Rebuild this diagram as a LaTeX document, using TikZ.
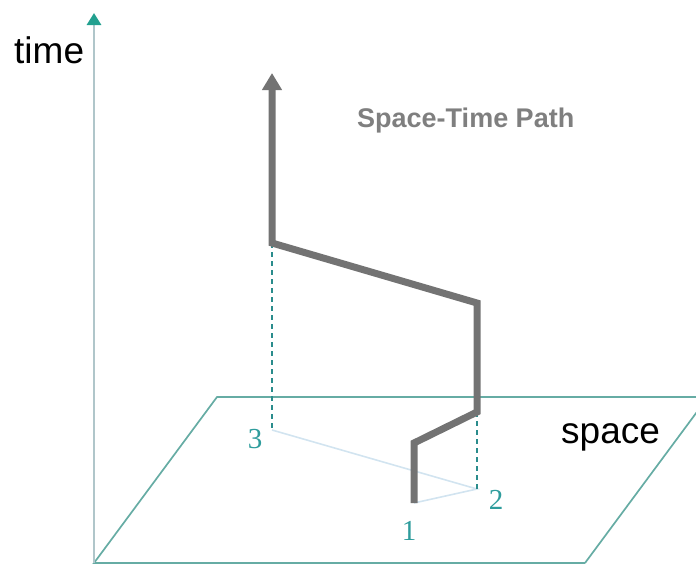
\documentclass[tikz,border=0pt]{standalone}
\usepackage{fontspec}
\setmainfont{Liberation Sans}
\newfontfamily\digitfont{Liberation Serif}
\usetikzlibrary{arrows.meta}
\definecolor{axisgray}{HTML}{B0C6CA}
\definecolor{axisteal}{HTML}{22A08F}
\definecolor{planeteal}{HTML}{66ACA4}
\definecolor{pathgray}{HTML}{737373}
\definecolor{dashteal}{HTML}{2A8C8C}
\definecolor{lightlink}{HTML}{D2E4F0}
\definecolor{labelteal}{HTML}{2E9C9C}
\definecolor{titlegray}{HTML}{7F7F7F}
\tikzset{
  planeline/.style={draw=planeteal, line width=1.7pt},
  stpath/.style={draw=pathgray, line width=7pt, line join=miter},
  droplink/.style={draw=dashteal, line width=1.3pt, dash pattern=on 5pt off 4pt},
  groundlink/.style={draw=lightlink, line width=1.6pt},
  ptlabel/.style={text=labelteal, font=\digitfont\fontsize{29}{30}\selectfont, inner sep=0pt, anchor=base},
  axislabel/.style={text=black, font=\fontsize{37}{40}\selectfont, inner sep=0pt, anchor=base west},
}
\begin{document}
\begin{tikzpicture}[x=1pt,y=-1pt]
\useasboundingbox (0,0) rectangle (696,565);
% plane
\coordinate (BL) at (94,563);
\coordinate (TL) at (217,397);
\coordinate (TR) at (696,397);
\coordinate (BR) at (585,563);
\coordinate (RE) at (708,397);
\begin{scope}
\clip (0,0) rectangle (696,565);
\draw[planeline] (BR) -- (BL) -- (TL) -- (TR);
\draw[planeline] (BR) -- (RE);
\end{scope}
% time axis
\coordinate (T0) at (94,563);
\coordinate (T1) at (94,13);
\draw[draw=axisgray, line width=2.8pt, -{Triangle[length=12pt,width=14pt,color=axisteal]}] (T0) -- (T1);
% ground points
\coordinate (P1) at (414,503);
\coordinate (P2) at (477,489);
\coordinate (P3) at (272,430);
\draw[groundlink] (P3) -- (P2) -- (P1);
% path corners
\coordinate (A) at (414,443);
\coordinate (B) at (477,412);
\coordinate (C) at (477,303);
\coordinate (D) at (272,243);
\coordinate (E) at (272,73);
\draw[droplink] (D) -- (P3);
\draw[droplink] (B) -- (P2);
\draw[stpath, -{Triangle[length=17pt,width=19pt]}] (P1) -- (A) -- (B) -- (C) -- (D) -- (E);
% labels
\node[ptlabel] (L1) at (409,540) {1};
\node[ptlabel] (L2) at (496,509) {2};
\node[ptlabel] (L3) at (255,448) {3};
\node[axislabel] (time) at (14,63) {time};
\node[axislabel] (space) at (561,443) {space};
\node[text=titlegray, font=\bfseries\fontsize{27}{30}\selectfont, inner sep=0pt, anchor=base west] (title) at (357,127) {Space-Time Path};
\end{tikzpicture}
\end{document}
